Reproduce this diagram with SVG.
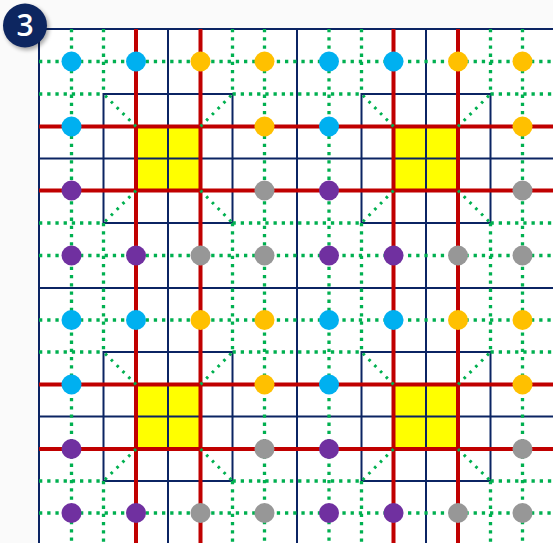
<svg xmlns="http://www.w3.org/2000/svg" width="553" height="543" viewBox="0 0 553 543">
<defs>
<style>
.navy{stroke:#0b2463;stroke-width:2;fill:none}
.red{stroke:#c00000;stroke-width:4;fill:none}
.grn{stroke:#00b050;stroke-width:3.3;stroke-dasharray:3.3 4.9;fill:none}
.diag{stroke:#00b050;stroke-width:3;stroke-dasharray:2.6 5.6;fill:none}
.yel{fill:#ffff00}
.b{fill:#00b0f0}.o{fill:#ffc000}.p{fill:#7030a0}.g{fill:#979797}
.num{font-family:"Open Sans","Liberation Sans",sans-serif;font-size:30px;font-weight:600;fill:#ffffff}
</style>
<filter id="sh" x="-30%" y="-30%" width="160%" height="160%"><feGaussianBlur stdDeviation="2"/></filter>
<g id="boxshape">
<rect x="0" y="0" width="129" height="129" class="navy"/>
</g>
</defs>
<rect x="0" y="0" width="553" height="543" fill="#fafafa"/>
<rect x="39" y="29" width="514" height="514" fill="#ffffff"/>

<g id="yellow-squares">
<rect class="yel" x="136" y="126.5" width="64.5" height="64"/>
<rect class="yel" x="393.5" y="126.5" width="64.5" height="64"/>
<rect class="yel" x="136" y="384.5" width="64.5" height="64.5"/>
<rect class="yel" x="393.5" y="384.5" width="64.5" height="64.5"/>
</g>

<g id="navy-grid">
<path class="navy" d="M39 29V543M168 29V543M297 29V543M426 29V543M39 29H553M39 158.5H553M39 288H553M39 416.5H553"/>
<use href="#boxshape" x="103.5" y="94"/>
<use href="#boxshape" x="361.5" y="94"/>
<use href="#boxshape" x="103.5" y="352"/>
<use href="#boxshape" x="361.5" y="352"/>
</g>

<g id="red-lines">
<path class="red" d="M136 29V543M200.5 29V543M393.5 29V543M458 29V543M39 126.5H553M39 190.5H553M39 384.5H553M39 449H553"/>
</g>

<g id="connectors">
<path class="grn" d="M71.5 29V543M264.5 29V543M329 29V543M522.5 29V543"/>
<path class="grn" d="M39 61.5H553M39 255.5H553M39 320H553M39 513H553"/>
<path class="grn" d="M103.5 29V94M103.5 223V352M103.5 481V543M232.5 29V94M232.5 223V352M232.5 481V543M361.5 29V94M361.5 223V352M361.5 481V543M490.5 29V94M490.5 223V352M490.5 481V543"/>
<path class="grn" d="M39 94H103.5M232.5 94H361.5M490.5 94H553M39 223H103.5M232.5 223H361.5M490.5 223H553M39 352H103.5M232.5 352H361.5M490.5 352H553M39 481H103.5M232.5 481H361.5M490.5 481H553"/>
<path class="diag" d="M136 126.5L103.5 94M200.5 126.5L232.5 94M136 190.5L103.5 223M200.5 190.5L232.5 223"/>
<path class="diag" d="M393.5 126.5L361.5 94M458 126.5L490.5 94M393.5 190.5L361.5 223M458 190.5L490.5 223"/>
<path class="diag" d="M136 384.5L103.5 352M200.5 384.5L232.5 352M136 449L103.5 481M200.5 449L232.5 481"/>
<path class="diag" d="M393.5 384.5L361.5 352M458 384.5L490.5 352M393.5 449L361.5 481M458 449L490.5 481"/>
</g>

<g id="dots-blue">
<circle class="b" cx="71.5" cy="61.5" r="10"/><circle class="b" cx="136" cy="61.5" r="10"/><circle class="b" cx="71.5" cy="126.5" r="10"/>
<circle class="b" cx="329" cy="61.5" r="10"/><circle class="b" cx="393.5" cy="61.5" r="10"/><circle class="b" cx="329" cy="126.5" r="10"/>
<circle class="b" cx="71.5" cy="320" r="10"/><circle class="b" cx="136" cy="320" r="10"/><circle class="b" cx="71.5" cy="384.5" r="10"/>
<circle class="b" cx="329" cy="320" r="10"/><circle class="b" cx="393.5" cy="320" r="10"/><circle class="b" cx="329" cy="384.5" r="10"/>
</g>
<g id="dots-orange">
<circle class="o" cx="200.5" cy="61.5" r="10"/><circle class="o" cx="264.5" cy="61.5" r="10"/><circle class="o" cx="264.5" cy="126.5" r="10"/>
<circle class="o" cx="458" cy="61.5" r="10"/><circle class="o" cx="522.5" cy="61.5" r="10"/><circle class="o" cx="522.5" cy="126.5" r="10"/>
<circle class="o" cx="200.5" cy="320" r="10"/><circle class="o" cx="264.5" cy="320" r="10"/><circle class="o" cx="264.5" cy="384.5" r="10"/>
<circle class="o" cx="458" cy="320" r="10"/><circle class="o" cx="522.5" cy="320" r="10"/><circle class="o" cx="522.5" cy="384.5" r="10"/>
</g>
<g id="dots-purple">
<circle class="p" cx="71.5" cy="190.5" r="10"/><circle class="p" cx="71.5" cy="255.5" r="10"/><circle class="p" cx="136" cy="255.5" r="10"/>
<circle class="p" cx="329" cy="190.5" r="10"/><circle class="p" cx="329" cy="255.5" r="10"/><circle class="p" cx="393.5" cy="255.5" r="10"/>
<circle class="p" cx="71.5" cy="449" r="10"/><circle class="p" cx="71.5" cy="513" r="10"/><circle class="p" cx="136" cy="513" r="10"/>
<circle class="p" cx="329" cy="449" r="10"/><circle class="p" cx="329" cy="513" r="10"/><circle class="p" cx="393.5" cy="513" r="10"/>
</g>
<g id="dots-gray">
<circle class="g" cx="264.5" cy="190.5" r="10"/><circle class="g" cx="200.5" cy="255.5" r="10"/><circle class="g" cx="264.5" cy="255.5" r="10"/>
<circle class="g" cx="522.5" cy="190.5" r="10"/><circle class="g" cx="458" cy="255.5" r="10"/><circle class="g" cx="522.5" cy="255.5" r="10"/>
<circle class="g" cx="264.5" cy="449" r="10"/><circle class="g" cx="200.5" cy="513" r="10"/><circle class="g" cx="264.5" cy="513" r="10"/>
<circle class="g" cx="522.5" cy="449" r="10"/><circle class="g" cx="458" cy="513" r="10"/><circle class="g" cx="522.5" cy="513" r="10"/>
</g>

<g id="badge">
<circle cx="27" cy="28" r="22" fill="#000" opacity="0.35" filter="url(#sh)"/>
<circle cx="25" cy="25.5" r="22" fill="#0d2660"/>
<text class="num" x="25" y="36" text-anchor="middle">3</text>
</g>
</svg>
